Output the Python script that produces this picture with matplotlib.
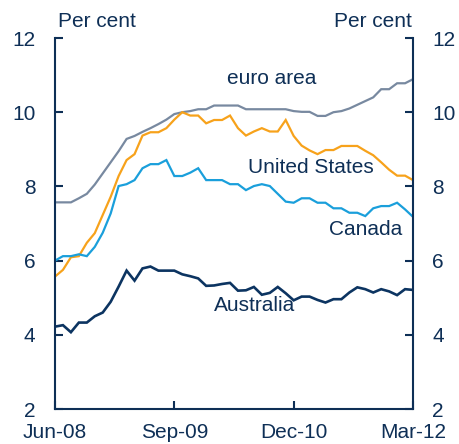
import matplotlib
matplotlib.use("Agg")
import matplotlib.pyplot as plt
import numpy as np
import pandas as pd

# ── data (monthly, Jun-08 to Mar-12, per cent) ────────────────────────────────
MONTHS = pd.date_range("2008-06-01", "2012-03-01", freq="MS")

euro_area = [7.57, 7.57, 7.57, 7.68, 7.80, 8.05, 8.35, 8.65, 8.95, 9.28,
             9.36, 9.47, 9.57, 9.68, 9.80, 9.95, 10.0, 10.03, 10.08, 10.08,
             10.18, 10.18, 10.18, 10.18, 10.08, 10.08, 10.08, 10.08, 10.08, 10.08,
             10.03, 10.01, 10.01, 9.90, 9.90, 10.0, 10.03, 10.10, 10.20, 10.30,
             10.40, 10.62, 10.62, 10.78, 10.78, 10.89]

united_states = [5.57, 5.75, 6.09, 6.12, 6.48, 6.74, 7.23, 7.72, 8.28, 8.71,
                 8.87, 9.37, 9.46, 9.46, 9.57, 9.80, 10.0, 9.91, 9.91, 9.70,
                 9.79, 9.79, 9.91, 9.57, 9.37, 9.48, 9.57, 9.48, 9.48, 9.79,
                 9.36, 9.10, 8.97, 8.87, 8.98, 8.98, 9.09, 9.09, 9.09, 8.96,
                 8.84, 8.65, 8.45, 8.29, 8.29, 8.17]

canada = [6.00, 6.12, 6.12, 6.17, 6.12, 6.37, 6.75, 7.27, 8.01, 8.06,
          8.17, 8.49, 8.60, 8.60, 8.71, 8.28, 8.28, 8.37, 8.49, 8.17,
          8.17, 8.17, 8.06, 8.06, 7.90, 8.01, 8.06, 8.01, 7.80, 7.59,
          7.56, 7.68, 7.68, 7.56, 7.56, 7.41, 7.41, 7.29, 7.29, 7.20,
          7.41, 7.47, 7.47, 7.56, 7.38, 7.18]

australia = [4.22, 4.26, 4.07, 4.33, 4.33, 4.50, 4.60, 4.89, 5.30, 5.73,
             5.46, 5.79, 5.84, 5.73, 5.73, 5.73, 5.63, 5.58, 5.52, 5.32,
             5.33, 5.37, 5.40, 5.19, 5.20, 5.29, 5.08, 5.13, 5.29, 5.12,
             4.93, 5.03, 5.03, 4.94, 4.87, 4.96, 4.96, 5.14, 5.28, 5.23,
             5.14, 5.23, 5.17, 5.07, 5.23, 5.21]

X_TICKS = [0, 15, 30, 45]
X_TICK_LABELS = ["Jun-08", "Sep-09", "Dec-10", "Mar-12"]
Y_TICKS = [2, 4, 6, 8, 10, 12]

NAVY = "#0E2F56"
SERIES = [
    ("euro area",     euro_area,     "#7889A0", (27.3, 10.92)),
    ("United States", united_states, "#F7A21B", (32.2, 8.50)),
    ("Canada",        canada,        "#1A9FDB", (39.1, 6.85)),
    ("Australia",     australia,     "#0C3461", (25.1, 4.78)),
]

plt.rcParams["font.family"] = ["Liberation Sans", "DejaVu Sans"]
FS = 15

fig = plt.figure(figsize=(4.59, 4.44), dpi=100)
ax = fig.add_axes([0.1198, 0.0788, 0.78, 0.8356])

x = np.arange(len(MONTHS))
for name, vals, color, (lx, ly) in SERIES:
    lw = 1.9 if name == "Australia" else 1.6
    ax.plot(x, vals, color=color, lw=lw, solid_joinstyle="miter")
    ax.text(lx, ly, name, color=NAVY, fontsize=FS, ha="center", va="center")

ax.set_xlim(0, 45)
ax.set_ylim(2, 12)
ax.set_xticks(X_TICKS)
ax.set_xticklabels(X_TICK_LABELS)
ax.set_yticks(Y_TICKS)

for side in ["left", "right", "bottom"]:
    ax.spines[side].set_color(NAVY)
    ax.spines[side].set_linewidth(1.5)
ax.spines["top"].set_visible(False)

ax.tick_params(axis="both", direction="in", length=6, width=1.5, color=NAVY,
               labelcolor=NAVY, labelsize=FS)
ax.tick_params(axis="y", left=True, right=True, labelleft=True, labelright=True, pad=14)
ax.tick_params(axis="x", pad=10)

ax.text(0.008, 1.02, "Per cent", transform=ax.transAxes, fontsize=FS,
        color=NAVY, ha="left", va="bottom")
ax.text(0.998, 1.02, "Per cent", transform=ax.transAxes, fontsize=FS,
        color=NAVY, ha="right", va="bottom")

fig.savefig("out.png", dpi=100)
